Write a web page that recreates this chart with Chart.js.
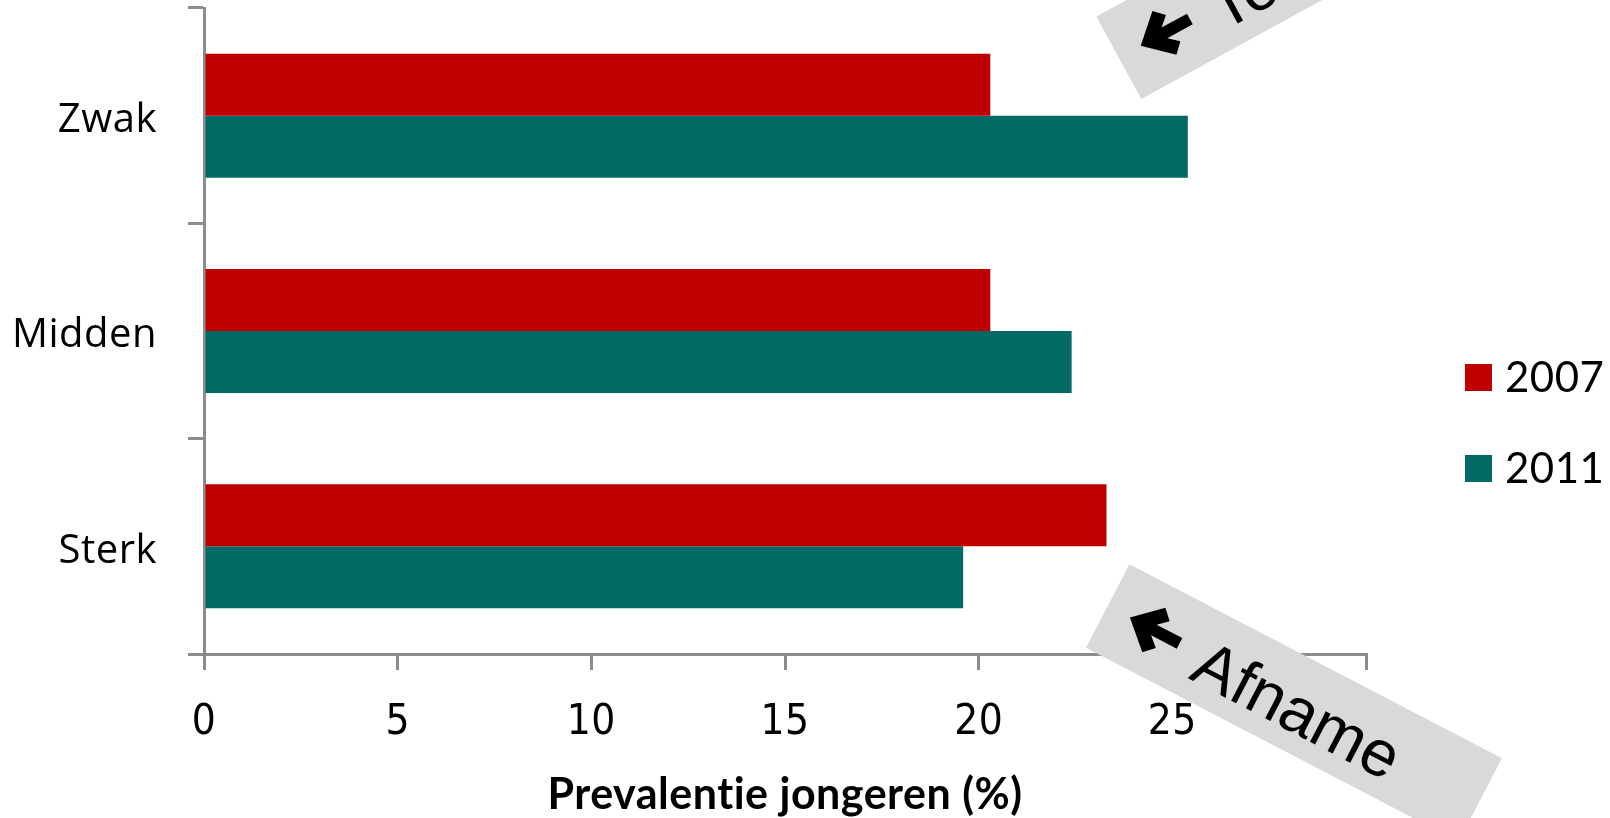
<!DOCTYPE html>
<html>
<head>
<meta charset="utf-8">
<script src="https://cdn.jsdelivr.net/npm/chart.js@4"></script>
<style>
    html, body { margin: 0; padding: 0; background: #ffffff; }
    #chart { display: block; }
</style>
</head>
<body>
<canvas id="chart" width="1610" height="818"></canvas>
<script>
// chart data
const categories = ["Zwak", "Midden", "Sterk"];
const years = ["2007", "2011"];
const values2007 = [20.3, 20.3, 23.3];
const values2011 = [25.4, 22.4, 19.6];
const xTicks = [0, 5, 10, 15, 20, 25, 30];
const axisTitle = "Prevalentie jongeren (%)";
const noteTexts = ["Toename", "Afname"];

const RED = "#c00000";
const TEAL = "#036a66";
const AXIS_GRAY = "#8c8c8c";
const BOX_GRAY = "#d9d9d9";
const NARROW = "'Liberation Sans Narrow', 'DejaVu Sans Condensed', sans-serif";

// small letter spacing also switches off the "ti" ligature of Lato
const spacingPlugin = {
    id: "spacing",
    beforeDraw(chart) {
        chart.ctx.letterSpacing = "0.5px";
    }
};

// ===============================
// legend at the right side
// ===============================
const legendPlugin = {
    id: "sideLegend",
    afterDraw(chart) {
        const ctx = chart.ctx;
        ctx.save();
        ctx.font = "42px Lato, 'Open Sans', sans-serif";
        ctx.textAlign = "left";
        ctx.textBaseline = "middle";
        chart.data.datasets.forEach((ds, i) => {
            const cy = 377 + i * 91;
            ctx.fillStyle = ds.backgroundColor;
            ctx.fillRect(1465, cy - 13, 27, 27);
            ctx.fillStyle = "#000000";
            ctx.fillText(ds.label, 1505, cy + 1);
        });
        ctx.restore();
    }
};

// rotated grey labels with an arrow
function drawNote(ctx, cx, cy, angleDeg, text) {
    ctx.save();
    ctx.translate(cx, cy);
    ctx.rotate(angleDeg * Math.PI / 180);
    ctx.fillStyle = BOX_GRAY;
    ctx.fillRect(-210, -47, 420, 94);

    // arrow pointing to the left of the box
    ctx.translate(-185, 0);
    ctx.fillStyle = "#000000";
    ctx.beginPath();
    ctx.moveTo(0, 0);
    ctx.lineTo(27, -25);
    ctx.lineTo(37, -15);
    ctx.lineTo(27, -6);
    ctx.lineTo(56, -6);
    ctx.lineTo(56, 6);
    ctx.lineTo(27, 6);
    ctx.lineTo(37, 15);
    ctx.lineTo(27, 25);
    ctx.closePath();
    ctx.fill();
    ctx.translate(185, 0);

    ctx.letterSpacing = "0px";
    ctx.font = "65px 'Liberation Sans', Arial, sans-serif";
    ctx.textAlign = "left";
    ctx.textBaseline = "alphabetic";
    ctx.fillText(text, -106, 27);
    ctx.restore();
}

const notePlugin = {
    id: "notes",
    afterDraw(chart) {
        drawNote(chart.ctx, 1303, -43, -28.7, noteTexts[0]);
        drawNote(chart.ctx, 1294, 703, 27.5, noteTexts[1]);
    }
};

// keep the plot box where the original has it
const noPad = (scale) => {
    scale.paddingTop = 0;
    scale.paddingBottom = 0;
    scale.paddingLeft = 0;
    scale.paddingRight = 0;
};

const ctx = document.getElementById("chart").getContext("2d");

new Chart(ctx, {
    type: "bar",
    data: {
        labels: categories,
        datasets: [
            {
                label: years[0],
                data: values2007,
                backgroundColor: RED,
                categoryPercentage: 0.576,
                barPercentage: 1.0
            },
            {
                label: years[1],
                data: values2011,
                backgroundColor: TEAL,
                categoryPercentage: 0.576,
                barPercentage: 1.0
            }
        ]
    },
    options: {
        indexAxis: "y",
        responsive: false,
        animation: false,
        layout: {
            padding: { top: 8, right: 244, left: 0, bottom: 0 }
        },
        plugins: {
            legend: { display: false },
            tooltip: { enabled: false }
        },
        scales: {
            x: {
                type: "linear",
                min: 0,
                max: 30,
                afterBuildTicks: (scale) => {
                    scale.ticks = xTicks.map(v => ({ value: v }));
                },
                afterFit: (scale) => {
                    scale.height = 164;
                    noPad(scale);
                },
                ticks: {
                    color: "#000000",
                    font: { family: NARROW, size: 42, lineHeight: 1 },
                    padding: 32,
                    maxRotation: 0
                },
                grid: {
                    drawOnChartArea: false,
                    drawTicks: true,
                    tickLength: 16,
                    color: AXIS_GRAY,
                    lineWidth: 3
                },
                border: { display: true, color: AXIS_GRAY, width: 3 },
                title: {
                    display: true,
                    text: axisTitle,
                    color: "#000000",
                    font: { family: "Lato, 'Open Sans', sans-serif", size: 43, weight: "bold", lineHeight: 1 },
                    padding: { top: 0, bottom: 1 }
                }
            },
            y: {
                afterFit: (scale) => {
                    scale.width = 204;
                    noPad(scale);
                },
                ticks: {
                    color: "#000000",
                    font: { family: "'Open Sans', sans-serif", size: 40 },
                    padding: 31,
                    labelOffset: 5
                },
                grid: {
                    offset: true,
                    drawOnChartArea: false,
                    drawTicks: true,
                    tickLength: 16,
                    color: AXIS_GRAY,
                    lineWidth: 3
                },
                border: { display: true, color: AXIS_GRAY, width: 3 }
            }
        }
    },
    plugins: [spacingPlugin, legendPlugin, notePlugin]
});
</script>
</body>
</html>
